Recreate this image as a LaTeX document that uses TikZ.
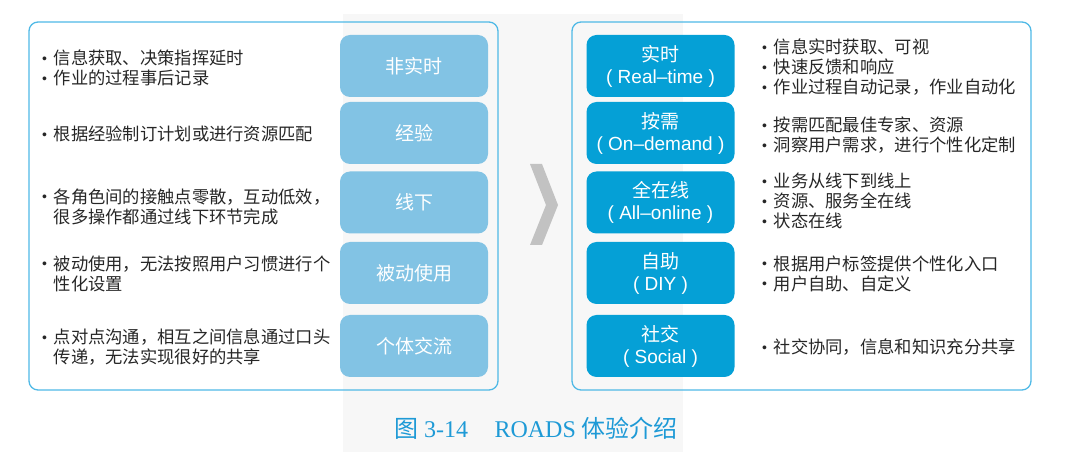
\documentclass[tikz,border=0pt]{standalone}
\usepackage{fontspec}
\setmainfont{Noto Sans CJK SC}
\newfontfamily\cjk{Noto Sans CJK SC}
\newfontfamily\lat{Liberation Sans}
\newfontfamily\serifl{Liberation Serif}
\definecolor{panelc}{HTML}{4FB9E6}
\definecolor{lboxc}{HTML}{82C3E4}
\definecolor{rboxc}{HTML}{05A0D6}
\definecolor{textc}{HTML}{262626}
\definecolor{capc}{HTML}{1E9AD6}
\definecolor{wmc}{HTML}{F7F7F7}
\definecolor{chevc}{HTML}{C2C2C2}
\newcommand\bul{\makebox[11.5pt][l]{\raisebox{1.2pt}{\lat\fontsize{14}{14}\selectfont •}}}
\newcommand\ind{\hspace*{11.5pt}}
\begin{document}
\begin{tikzpicture}[x=1pt,y=-1pt,
  panel/.style={draw=panelc, line width=1.3pt, rounded corners=9pt},
  boxbase/.style={rounded corners=10pt, text=white, minimum width=148pt, minimum height=62pt, inner sep=0pt, align=center},
  lbox/.style={boxbase, fill=lboxc, font=\cjk\fontsize{19}{22}\selectfont},
  rbox/.style={boxbase, fill=rboxc, font=\fontsize{19}{22}\selectfont},
  txt/.style={anchor=west, align=left, inner sep=0pt, text=textc, font=\cjk\fontsize{17.3}{20}\selectfont},
  captext/.style={inner sep=0pt, text=capc, font=\fontsize{24}{27}\selectfont}]
\useasboundingbox (0,0) rectangle (1080,454);
% faint watermark background
\fill[wmc] (343,14) rectangle (683,452);
% panels
\draw[panel] (29,22) rectangle (498,390);
\draw[panel] (572,22) rectangle (1031,390);
% left boxes
\node[lbox] (l1) at (414,66) {非实时};
\node[lbox] (l2) at (414,133) {经验};
\node[lbox] (l3) at (414,202.5) {线下};
\node[lbox] (l4) at (414,273) {被动使用};
\node[lbox] (l5) at (414,346) {个体交流};
% right boxes
\node[rbox] (r1) at (660.5,66) {{\cjk 实时}\\{\lat ( Real–time )}};
\node[rbox] (r2) at (660.5,133) {{\cjk 按需}\\{\lat ( On–demand )}};
\node[rbox] (r3) at (660.5,202.5) {{\cjk 全在线}\\{\lat ( All–online )}};
\node[rbox] (r4) at (660.5,273) {{\cjk 自助}\\{\lat ( DIY )}};
\node[rbox] (r5) at (660.5,346) {{\cjk 社交}\\{\lat ( Social )}};
% left texts
\node[txt] (lt1) at (42,68) {\bul 信息获取、决策指挥延时\\\bul 作业的过程事后记录};
\node[txt] (lt2) at (42,134) {\bul 根据经验制订计划或进行资源匹配};
\node[txt] (lt3) at (42,206.5) {\bul 各角色间的接触点零散，互动低效，\\\ind 很多操作都通过线下环节完成};
\node[txt] (lt4) at (42,273.5) {\bul 被动使用，无法按照用户习惯进行个\\\ind 性化设置};
\node[txt] (lt5) at (42,347) {\bul 点对点沟通，相互之间信息通过口头\\\ind 传递，无法实现很好的共享};
% right texts
\node[txt] (rt1) at (762,67) {\bul 信息实时获取、可视\\\bul 快速反馈和响应\\\bul 作业过程自动记录，作业自动化};
\node[txt] (rt2) at (762,135) {\bul 按需匹配最佳专家、资源\\\bul 洞察用户需求，进行个性化定制};
\node[txt] (rt3) at (762,201) {\bul 业务从线下到线上\\\bul 资源、服务全在线\\\bul 状态在线};
\node[txt] (rt4) at (762,273.5) {\bul 根据用户标签提供个性化入口\\\bul 用户自助、自定义};
\node[txt] (rt5) at (762,347) {\bul 社交协同，信息和知识充分共享};
% chevron
\fill[chevc] (530,164) -- (542,164) -- (558,205) -- (542,245) -- (530,245) -- (546,205) -- cycle;
% caption
\node[captext] (caption) at (536,428) {{\cjk 图} {\serifl 3-14}\hspace{1.1em}{\serifl ROADS} {\cjk 体验介绍}};
\end{tikzpicture}
\end{document}
